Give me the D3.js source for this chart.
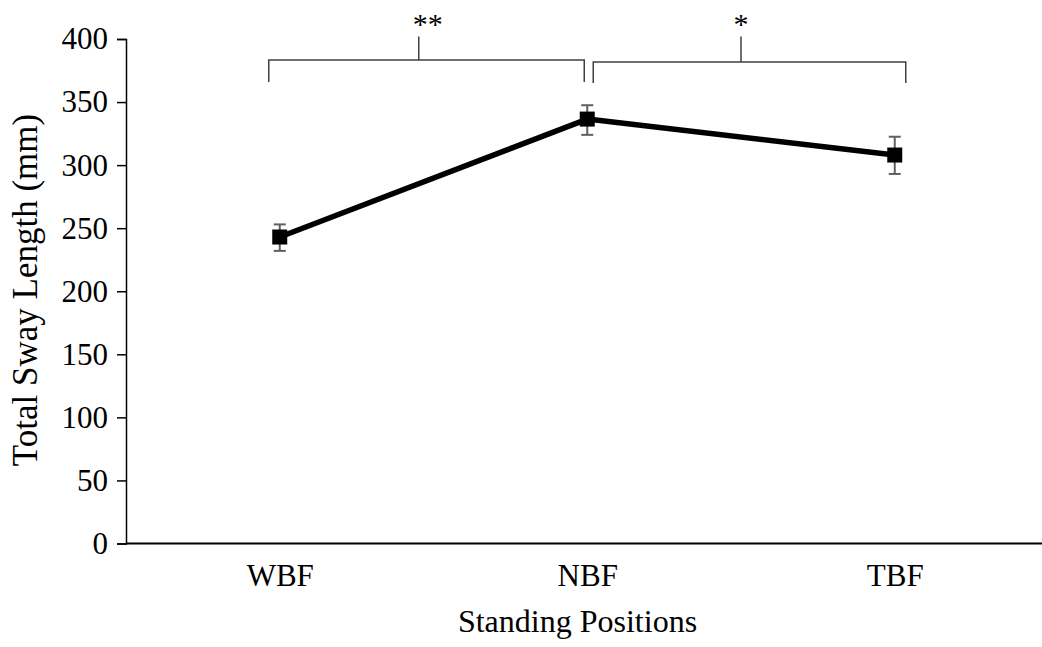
<!DOCTYPE html>
<html>
<head>
<meta charset="utf-8">
<script src="https://cdn.jsdelivr.net/npm/d3@7"></script>
<style>
  html, body { margin: 0; padding: 0; background: #fff; }
  svg { display: block; font-family: "Liberation Serif", "Times New Roman", serif; }
</style>
</head>
<body>
<svg id="chart" width="1042" height="647"></svg>
<script>
// Standing positions and mean total sway length (mm) with error bars
const categories = ["WBF", "NBF", "TBF"];
const meanValues = [243, 336.5, 308];
const errLow = [232, 324, 293];
const errHigh = [253, 347.5, 322.5];
const yTicks = [0, 50, 100, 150, 200, 250, 300, 350, 400];
// Significance brackets between positions
const brackets = [
  { from: "WBF", to: "NBF", label: "**" },
  { from: "NBF", to: "TBF", label: "*" }
];

const svg = d3.select("#chart");
const x0 = 126, x1 = 1048.5, yTop = 39, yBottom = 543.5;
const serif = "Liberation Serif, Times New Roman, serif";

const x = d3.scalePoint().domain(categories).range([x0, x1]).padding(0.5);
const y = d3.scaleLinear().domain([0, 400]).range([yBottom, yTop]);

// Y axis
const yAxis = svg.append("g")
  .attr("transform", `translate(${x0},0)`)
  .call(d3.axisLeft(y).tickValues(yTicks).tickSize(9).tickPadding(9));
yAxis.attr("font-family", serif);
yAxis.select(".domain").attr("stroke", "#000").attr("stroke-width", 1.5);
yAxis.selectAll(".tick line").attr("stroke", "#000").attr("stroke-width", 1.5);
yAxis.selectAll(".tick text")
  .attr("font-size", 31).attr("fill", "#000");

// X axis (baseline with category labels, no ticks)
const xAxis = svg.append("g")
  .attr("transform", `translate(0,${yBottom})`)
  .call(d3.axisBottom(x).tickSize(0).tickPadding(20).tickSizeOuter(0));
xAxis.attr("font-family", serif);
xAxis.select(".domain").attr("d", `M${x0},0H1042`).attr("stroke", "#000").attr("stroke-width", 2);
xAxis.selectAll(".tick text")
  .attr("font-size", 31).attr("fill", "#000");

// Axis titles
svg.append("text")
  .attr("transform", `translate(37,290) rotate(-90)`)
  .attr("text-anchor", "middle")
  .attr("font-size", 35)
  .text("Total Sway Length (mm)");
svg.append("text")
  .attr("x", 577.5).attr("y", 632)
  .attr("text-anchor", "middle")
  .attr("font-size", 32)
  .text("Standing Positions");

// Error bars
const errColor = "#606060";
const capHalf = 6;
categories.forEach((c, i) => {
  const g = svg.append("g").attr("stroke", errColor).attr("stroke-width", 2);
  g.append("line").attr("x1", x(c)).attr("x2", x(c)).attr("y1", y(errLow[i])).attr("y2", y(errHigh[i]));
  g.append("line").attr("x1", x(c) - capHalf).attr("x2", x(c) + capHalf).attr("y1", y(errLow[i])).attr("y2", y(errLow[i]));
  g.append("line").attr("x1", x(c) - capHalf).attr("x2", x(c) + capHalf).attr("y1", y(errHigh[i])).attr("y2", y(errHigh[i]));
});

// Mean line
const line = d3.line().x((d, i) => x(categories[i])).y(d => y(d));
svg.append("path")
  .datum(meanValues)
  .attr("d", line)
  .attr("fill", "none")
  .attr("stroke", "#000")
  .attr("stroke-width", 5.5)
  .attr("stroke-linejoin", "round");

// Square markers
const ms = 15;
svg.selectAll("rect.marker")
  .data(meanValues)
  .join("rect")
  .attr("class", "marker")
  .attr("x", (d, i) => x(categories[i]) - ms / 2)
  .attr("y", d => y(d) - ms / 2)
  .attr("width", ms).attr("height", ms)
  .attr("fill", "#000");

// Significance brackets
const bracketSpecs = [
  { x1: x("WBF") - 11, x2: x("NBF") - 3, stem: x("WBF") + 139, labelX: x("WBF") + 148, yBar: 60, yLeg: 82 },
  { x1: x("NBF") + 6, x2: x("TBF") + 11, stem: (x("NBF") + x("TBF")) / 2, labelX: (x("NBF") + x("TBF")) / 2, yBar: 62, yLeg: 83 }
];
brackets.forEach((b, i) => {
  const s = bracketSpecs[i];
  svg.append("path")
    .attr("d", `M${s.x1},${s.yLeg}V${s.yBar}H${s.x2}V${s.yLeg}M${s.stem},${s.yBar}V36.5`)
    .attr("fill", "none")
    .attr("stroke", "#404040")
    .attr("stroke-width", 1.5);
  svg.append("text")
    .attr("x", s.labelX)
    .attr("y", 34)
    .attr("text-anchor", "middle")
    .attr("font-size", 30)
    .text(b.label);
});
</script>
</body>
</html>
